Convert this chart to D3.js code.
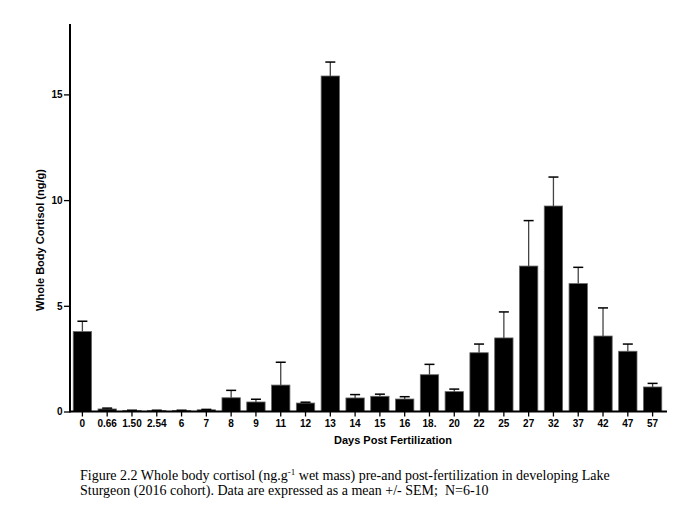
<!DOCTYPE html>
<html>
<head>
<meta charset="utf-8">
<script src="https://d3js.org/d3.v7.min.js"></script>
<style>
  html, body { margin: 0; background: #fff; }
  svg { display: block; }
  .axis text { font-family: "Liberation Sans", Arial, sans-serif; font-weight: bold; font-size: 10px; fill: #000; }
  .axis path, .axis line { stroke: #000; }
  .title { font-family: "Liberation Sans", Arial, sans-serif; font-weight: bold; font-size: 11px; }
  .caption { font-family: "Liberation Serif", "Times New Roman", serif; font-size: 14px; }
</style>
</head>
<body>
<svg width="693" height="521"></svg>
<script>
// days post fertilization
var days = ["0", "0.66", "1.50", "2.54", "6", "7", "8", "9", "11", "12", "13", "14",
            "15", "16", "18.", "20", "22", "25", "27", "32", "37", "42", "47", "57"];
// mean cortisol (ng/g)
var means = [3.78, 0.12, 0.05, 0.05, 0.05, 0.08, 0.65, 0.45, 1.25, 0.40, 15.87, 0.64,
             0.72, 0.59, 1.74, 0.94, 2.78, 3.48, 6.88, 9.72, 6.05, 3.57, 2.85, 1.16];
// SEM
var sems = [0.49, 0.04, 0.01, 0.01, 0.01, 0.02, 0.35, 0.13, 1.08, 0.04, 0.66, 0.16,
            0.10, 0.11, 0.49, 0.12, 0.41, 1.23, 2.15, 1.37, 0.77, 1.33, 0.34, 0.17];
var yTicks = [0, 5, 10, 15];

var data = days.map(function(d, i) { return { day: d, mean: means[i], sem: sems[i] }; });

var svg = d3.select("svg");
var mLeft = 70, mRight = 665, mTop = 24, mBottom = 411.5;

var x = d3.scaleBand().domain(days).range([mLeft, mRight]).paddingInner(0.26).paddingOuter(0.13);
var y = d3.scaleLinear().domain([0, 18.33]).range([mBottom, mTop]);

// bars
svg.append("g").selectAll("rect")
  .data(data)
  .enter().append("rect")
  .attr("x", d => x(d.day))
  .attr("y", d => y(d.mean))
  .attr("width", x.bandwidth())
  .attr("height", d => mBottom - y(d.mean))
  .attr("fill", "#000")
  .attr("stroke", "#666")
  .attr("stroke-width", 0.8);

// error bars (upper only)
var err = svg.append("g");
err.selectAll("line.stem")
  .data(data)
  .enter().append("line")
  .attr("class", "stem")
  .attr("x1", d => x(d.day) + x.bandwidth() / 2)
  .attr("x2", d => x(d.day) + x.bandwidth() / 2)
  .attr("y1", d => y(d.mean))
  .attr("y2", d => y(d.mean + d.sem))
  .attr("stroke", "#444")
  .attr("stroke-width", 1.3);
err.selectAll("line.cap")
  .data(data)
  .enter().append("line")
  .attr("class", "cap")
  .attr("x1", d => x(d.day) + x.bandwidth() / 2 - 5)
  .attr("x2", d => x(d.day) + x.bandwidth() / 2 + 5)
  .attr("y1", d => y(d.mean + d.sem))
  .attr("y2", d => y(d.mean + d.sem))
  .attr("stroke", "#000")
  .attr("stroke-width", 1.5);

// axes
var xAxis = svg.append("g")
  .attr("class", "axis")
  .attr("transform", "translate(0," + mBottom + ")")
  .call(d3.axisBottom(x).tickSizeInner(5).tickSizeOuter(0).tickPadding(3));
xAxis.select(".domain").attr("d", "M" + mLeft + ",0H667").attr("stroke-width", 2);
xAxis.selectAll(".tick line").attr("stroke-width", 1.3);

var yAxis = svg.append("g")
  .attr("class", "axis")
  .attr("transform", "translate(" + mLeft + ",0)")
  .call(d3.axisLeft(y).tickValues(yTicks).tickSizeInner(6).tickSizeOuter(0).tickPadding(1.5));
yAxis.select(".domain").attr("d", "M0," + (mBottom + 1) + "V" + mTop).attr("stroke-width", 2);
yAxis.selectAll(".tick line").attr("stroke-width", 1.3);

// axis titles
svg.append("text")
  .attr("class", "title")
  .attr("x", 393).attr("y", 444)
  .attr("text-anchor", "middle")
  .text("Days Post Fertilization");

svg.append("text")
  .attr("class", "title")
  .attr("transform", "translate(44,240) rotate(-90)")
  .attr("text-anchor", "middle")
  .text("Whole Body Cortisol (ng/g)");

// caption
var cap = svg.append("text").attr("class", "caption").attr("x", 80).attr("y", 480);
cap.append("tspan").text("Figure 2.2 Whole body cortisol (ng.g");
cap.append("tspan").attr("font-size", "9px").attr("dy", -5).text("-1");
cap.append("tspan").attr("dy", 5).text(" wet mass) pre-and post-fertilization in developing Lake");

svg.append("text").attr("class", "caption").attr("x", 80).attr("y", 495)
  .style("white-space", "pre")
  .text("Sturgeon (2016 cohort). Data are expressed as a mean +/- SEM;  N=6-10");
</script>
</body>
</html>
